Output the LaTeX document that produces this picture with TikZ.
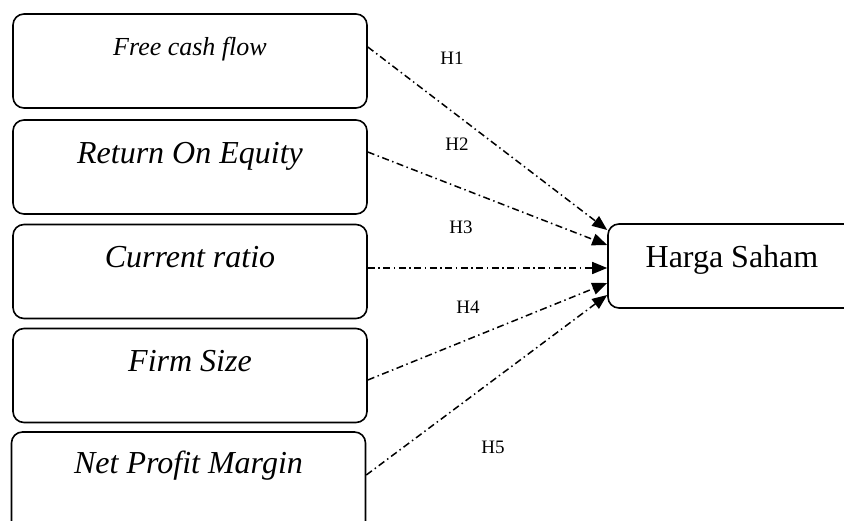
\documentclass[tikz,border=0pt]{standalone}
\usepackage{fontspec}
\setmainfont{Liberation Serif}
\usetikzlibrary{arrows.meta,calc}

\tikzset{
  x=1pt, y=-1pt,
  box/.style={draw, line width=1.6pt, rounded corners=11pt,
    minimum width=354pt, minimum height=94pt, inner sep=0pt},
  target/.style={draw, line width=1.6pt, rounded corners=11pt,
    minimum width=248pt, minimum height=84pt, inner sep=0pt},
  vartext/.style={anchor=base, inner sep=0pt, font=\fontsize{32}{36}\selectfont\itshape},
  hyp/.style={anchor=base, inner sep=0pt, font=\fontsize{19}{22}\selectfont},
  link/.style={line width=1.5pt, dash pattern=on 7pt off 3.5pt on 1.5pt off 3.5pt,
    -{Triangle[length=15pt,width=12pt]}}
}

\begin{document}
\begin{tikzpicture}
\useasboundingbox (0,0) rectangle (844,520);

% independent variables
\node[box] (b1) at (190,61) {};
\node[box] (b2) at (190,167) {};
\node[box] (b3) at (190,271.5) {};
\node[box] (b4) at (190,375.5) {};
\node[box, minimum height=100pt] (b5) at (188.5,482) {};

\node[anchor=base, inner sep=0pt, font=\fontsize{26}{30}\selectfont\itshape] (t1) at (190,55) {Free cash flow};
\node[vartext] (t2) at (190,163) {Return On Equity};
\node[vartext] (t3) at (190,267) {Current ratio};
\node[vartext] (t4) at (190,371) {Firm Size};
\node[vartext] (t5) at (188.5,473) {Net Profit Margin};

% dependent variable
\node[target] (h) at (732,266) {};
\node[anchor=base, inner sep=0pt, font=\fontsize{32}{36}\selectfont] (ht) at (732,267) {Harga Saham};

% hypothesised effects
\draw[link] ($(b1.east)+(0,-14)$) -- ($(h.west)+(0,-36)$);
\draw[link] ($(b2.east)+(0,-15)$) -- ($(h.west)+(0,-21)$);
\draw[link] ($(b3.east)+(0,-3.5)$) -- ($(h.west)+(0,2)$);
\draw[link] ($(b4.east)+(0,4.5)$) -- ($(h.west)+(0,17)$);
\draw[link] ($(b5.east)+(0,-7)$) -- ($(h.west)+(0,29)$);

\node[hyp] (l1) at (452,64) {H1};
\node[hyp] (l2) at (457,150) {H2};
\node[hyp] (l3) at (461,233) {H3};
\node[hyp] (l4) at (468,313) {H4};
\node[hyp] (l5) at (493,453) {H5};
\end{tikzpicture}
\end{document}
